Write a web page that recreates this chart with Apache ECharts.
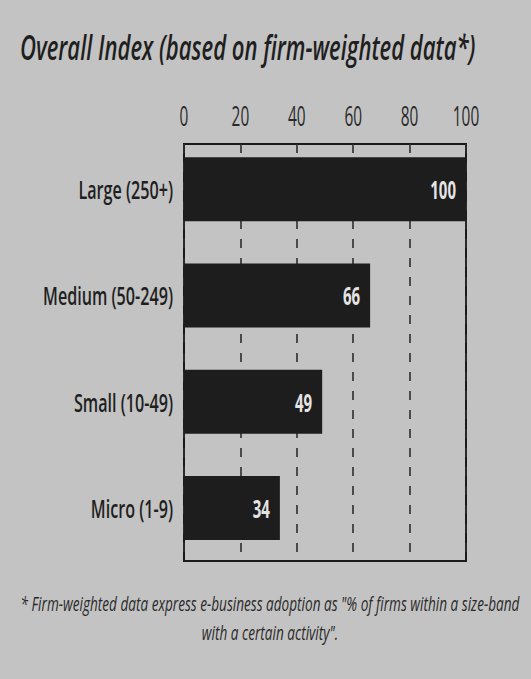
<!DOCTYPE html>
<html>
<head>
<meta charset="utf-8">
<script src="https://cdn.jsdelivr.net/npm/echarts@6/dist/echarts.min.js"></script>
<style>
  html, body { margin: 0; padding: 0; background: #c3c3c3; }
  #chart { width: 531px; height: 679px; }
</style>
</head>
<body>
<div id="chart"></div>
<script>
// Size bands and their overall e-business index
const categories = ['Large (250+)', 'Medium (50-249)', 'Small (10-49)', 'Micro (1-9)'];
const indexValues = [100, 66, 49, 34];
const tickValues = [0, 20, 40, 60, 80, 100];

const titleText = 'Overall Index (based on firm-weighted data*)';
const noteText = '* Firm-weighted data express e-business adoption as "% of firms within a size-band\nwith a certain activity".';

const FONT = "'Open Sans', 'Noto Sans', sans-serif";
const INK = '#1f1f1f';
const BG = '#c3c3c3';

// Horizontal squeeze for axis and bar label runs, keyed by font size
const condenseBySize = { 28: 0.55, 26: 0.62, 25: 0.6 };

const chart = echarts.init(document.getElementById('chart'), null, { renderer: 'svg' });

const xMin = tickValues[0];
const xMax = tickValues[tickValues.length - 1];
const xStep = tickValues[1] - tickValues[0];

chart.setOption({
  backgroundColor: BG,
  animation: false,
  graphic: [
    {
      type: 'text',
      x: 20, y: 29,
      scaleX: 0.63,
      style: {
        text: titleText,
        font: "italic 600 35px " + FONT,
        fill: INK,
        align: 'left',
        verticalAlign: 'top'
      }
    },
    {
      type: 'text',
      x: 270, y: 589,
      scaleX: 0.68,
      style: {
        text: noteText,
        font: "italic normal 20px " + FONT,
        lineHeight: 29,
        fill: '#2a2a2a',
        align: 'center',
        verticalAlign: 'top'
      }
    }
  ],
  grid: [
    // frame with the value scale and dashed guides
    { left: 184, right: 65, top: 144, bottom: 118, outerBoundsMode: 'none',
      show: true, borderColor: '#1a1a1a', borderWidth: 2, backgroundColor: 'transparent' },
    // category bands for the bars
    { left: 184, right: 65, top: 136, bottom: 118, outerBoundsMode: 'none', show: false }
  ],
  xAxis: [
    {
      gridIndex: 0,
      type: 'value',
      position: 'top',
      min: xMin, max: xMax, interval: xStep,
      axisLine: { show: false },
      axisTick: { show: false },
      axisLabel: { fontFamily: FONT, fontSize: 28, color: '#2a2a2a', margin: 15 },
      splitLine: { show: true, lineStyle: { color: '#2e2e2e', width: 1.6, type: [9, 10] } }
    },
    {
      gridIndex: 1,
      type: 'value',
      min: xMin, max: xMax, interval: xStep,
      show: false,
      splitLine: { show: false }
    }
  ],
  yAxis: [
    { gridIndex: 0, type: 'category', data: categories, show: false },
    {
      gridIndex: 1,
      type: 'category',
      inverse: true,
      data: categories,
      axisLine: { show: false },
      axisTick: { show: false },
      splitLine: { show: false },
      axisLabel: { fontFamily: FONT, fontWeight: 600, fontSize: 26, color: INK, margin: 11 }
    }
  ],
  series: [{
    type: 'bar',
    xAxisIndex: 1,
    yAxisIndex: 1,
    data: indexValues,
    barWidth: 64,
    itemStyle: { color: '#1d1d1d' },
    label: {
      show: true,
      position: 'insideRight',
      distance: 10,
      fontFamily: FONT,
      fontWeight: 'bold',
      fontSize: 25,
      color: '#e4e4e4'
    }
  }]
});

// Narrow the axis and bar label runs so they read as a condensed face
function condenseText() {
  document.querySelectorAll('#chart svg text').forEach(function (t) {
    if (t.getAttribute('data-condensed')) return;
    const size = Math.round(parseFloat(getComputedStyle(t).fontSize));
    const k = condenseBySize[size];
    if (!k) return;
    const w = t.getComputedTextLength();
    if (!w) return;
    t.setAttribute('textLength', (w * k).toFixed(2));
    t.setAttribute('lengthAdjust', 'spacingAndGlyphs');
    t.setAttribute('data-condensed', '1');
  });
}
condenseText();
chart.on('finished', condenseText);
</script>
</body>
</html>
